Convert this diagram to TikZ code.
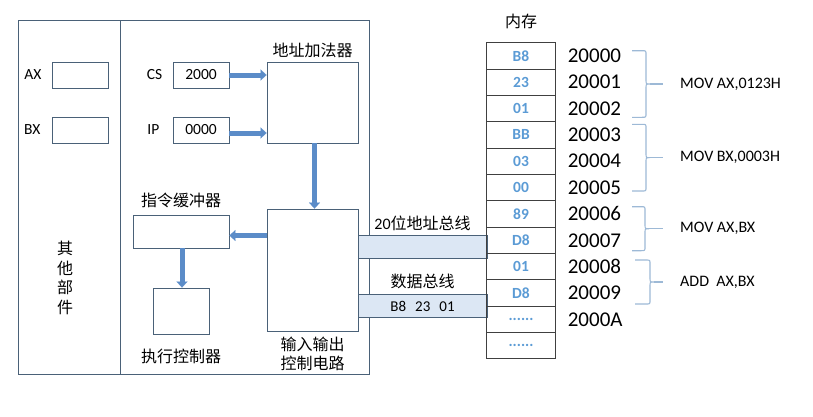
\documentclass[tikz,border=0pt]{standalone}
\usepackage{fontspec}
\setmainfont{Carlito}
\newfontfamily\cjk{Noto Sans CJK SC}
\usepackage{tikz}
\usetikzlibrary{arrows.meta}
\usetikzlibrary{positioning}
\definecolor{frameline}{HTML}{4A6178}
\definecolor{flowblue}{HTML}{5B8CC8}
\definecolor{cellblue}{HTML}{5B9BD5}
\definecolor{busfill}{HTML}{DCE7F4}
\definecolor{bracecol}{HTML}{9DB9D6}
\definecolor{cellline}{HTML}{404040}
\newcommand{\memdots}{......}

\begin{document}
\begin{tikzpicture}[x=1pt,y=-1pt] % one unit = one pixel of the sketch, y runs downwards
  % Define styles for boxes, labels and arrows
  \tikzset{
    regbox/.style={
      draw=frameline,
      line width=0.9pt,
      inner sep=0pt,
      minimum width=56pt,
      minimum height=26pt,
      font=\fontsize{15.5}{18}\selectfont
    },
    latlbl/.style={inner sep=0pt, font=\fontsize{15.5}{18}\selectfont},
    cnlbl/.style={inner sep=0pt, font=\cjk\fontsize{16}{19}\selectfont},
    flow/.style={
      draw=flowblue,
      line width=5pt,
      -{Triangle[length=6pt, width=11pt, line width=0.1pt]}
    },
    bus/.style={
      draw=frameline,
      fill=busfill,
      line width=0.8pt,
      inner sep=0pt,
      minimum width=129pt,
      minimum height=23.5pt
    },
    memcell/.style={
      draw=cellline,
      line width=0.9pt,
      inner sep=0pt,
      minimum width=68.3pt,
      minimum height=26.35pt,
      text=cellblue,
      font=\fontsize{15.5}{18}\selectfont\bfseries
    },
    addr/.style={inner sep=0pt, font=\fontsize{21}{24}\selectfont},
    brace/.style={draw=bracecol, line width=1.1pt}
  }
  \useasboundingbox (0,0) rectangle (813,416);

  % CPU frame
  \draw[draw=frameline, line width=0.9pt] (18,20) rectangle (369,374);
  \draw[draw=frameline, line width=0.9pt] (120,20) -- (120,374);

  % Other parts: general registers
  \node[regbox] (axbox) at (80,75) {};
  \node[regbox] (bxbox) at (80,130) {};
  \node[latlbl, left=10pt of axbox] (axlbl) {AX};
  \node[latlbl, left=11pt of bxbox] (bxlbl) {BX};
  \node[cnlbl, align=center, font=\cjk\fontsize{16}{19.7}\selectfont] (other) at (65,278) {其\\他\\部\\件};

  % Segment register, instruction pointer and address adder
  \node[regbox] (csbox) at (201,75) {2000};
  \node[regbox] (ipbox) at (201,130) {0000};
  \node[latlbl, left=10pt of csbox] (cslbl) {CS};
  \node[latlbl, left=13pt of ipbox] (iplbl) {IP};
  \node[regbox, minimum width=91pt, minimum height=81pt] (adder) at (312.5,102.5) {};
  \node[cnlbl, above=4pt of adder] (adderlbl) {地址加法器};

  % Input/output control, buffer and execution control
  \node[regbox, minimum width=91pt, minimum height=122pt] (io) at (312.5,270) {};
  \node[cnlbl, align=center, below=5pt of io] (iolbl) {输入输出\\控制电路};
  \node[regbox, minimum width=96pt, minimum height=33pt] (buf) at (181,231.5) {};
  \node[cnlbl, above=6pt of buf] (buflbl) {指令缓冲器};
  \node[regbox, minimum height=46pt] (exec) at (181,311) {};
  \node[cnlbl, below=14pt of exec] (execlbl) {执行控制器};

  % Flow arrows
  \draw[flow] (csbox.east) -- (csbox.east -| adder.west);
  \draw[flow] ([yshift=-3pt]ipbox.east) -- ([yshift=-3pt]ipbox.east -| adder.west);
  \draw[flow] ([xshift=2pt]adder.south) -- ([xshift=2pt]io.north);
  \draw[flow] ([yshift=-4pt]buf.east -| io.west) -- ([yshift=-4pt]buf.east);
  \draw[flow] ([xshift=1pt]buf.south) -- ([xshift=1pt]exec.north);

  % Buses
  \node[bus] (abus) at (422.5,247) {};
  \node[cnlbl, above=4pt of abus] (abuslbl) {{\rmfamily 20}位地址总线};
  \node[bus, font=\fontsize{15}{18}\selectfont] (dbus) at (422.5,306) {B8\hspace{9pt}23\hspace{9pt}01};
  \node[cnlbl, above=5pt of dbus] (dbuslbl) {数据总线};

  % Memory cells and addresses
  \foreach \v [count=\i] in {B8,23,01,BB,03,00,89,D8,01,D8,\memdots,\memdots} {
    \node[memcell] (m\i) at (521,{29.5+26.35*\i}) {\v};
  }
  \foreach \a [count=\i] in {20000,20001,20002,20003,20004,20005,20006,20007,20008,20009,2000A} {
    \node[addr, right=12pt of m\i] (a\i) {\a};
  }
  \node[cnlbl, above=13pt of m1] (memlbl) {内存};

  % Braces grouping the bytes of each instruction
  \foreach \ya/\yb/\xe/\xv/\op [count=\k] in {50.7/117.3/632/646/{MOV AX,0123H},
      124.3/191/632/646/{MOV BX,0003H}, 206.7/250.7/632/645/{MOV AX,BX},
      260/304/635/650/{ADD\ \ AX,BX}} {
    \pgfmathsetmacro{\ym}{(\ya+\yb)/2}
    \draw[brace] (\xe,\ya) -- (\xv-4,\ya) .. controls (\xv,\ya) .. (\xv,\ya+4)
      -- (\xv,\ym-4) .. controls (\xv,\ym) .. (\xv+4,\ym)
      .. controls (\xv,\ym) .. (\xv,\ym+4) -- (\xv,\yb-4)
      .. controls (\xv,\yb) .. (\xv-4,\yb) -- (\xe,\yb);
    \coordinate (tip\k) at (663,\ym);
    \draw[brace] (\xv+4,\ym) -- (tip\k);
    \node[latlbl, anchor=west, font=\fontsize{16}{19}\selectfont] (op\k) at ([xshift=17pt]tip\k) {\op};
  }
\end{tikzpicture}
\end{document}
